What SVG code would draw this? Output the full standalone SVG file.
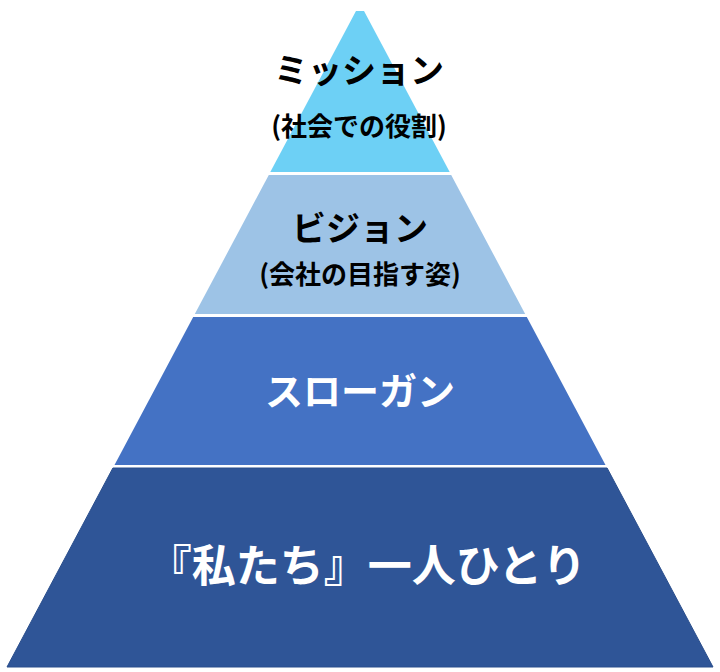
<svg xmlns="http://www.w3.org/2000/svg" width="720" height="672" viewBox="0 0 720 672">
  <style>
    .lbl { font-family: "Noto Sans CJK JP", "Noto Sans", sans-serif; font-weight: bold; text-anchor: middle; dominant-baseline: central; }
    .dark { fill: #000000; }
    .light { fill: #ffffff; }
  </style>
  <rect width="720" height="672" fill="#ffffff"/>
  <g id="mission">
    <polygon points="356,11 364,11 449.7,172 270.3,172" fill="#6DD0F5"/>
    <text class="lbl dark" x="359" y="68" font-size="34">ミッション</text>
    <text class="lbl dark" x="359" y="124" font-size="26">(社会での役割)</text>
  </g>
  <g id="vision">
    <polygon points="268.8,175 451.2,175 525.2,314 194.8,314" fill="#9DC3E6"/>
    <text class="lbl dark" x="360" y="226" font-size="34">ビジョン</text>
    <text class="lbl dark" x="360" y="272" font-size="26">(会社の目指す姿)</text>
  </g>
  <g id="slogan">
    <polygon points="193.2,317 526.8,317 605.5,465 114.5,465" fill="#4472C4"/>
    <text class="lbl light" x="360" y="388" font-size="38">スローガン</text>
  </g>
  <g id="people">
    <polygon points="112.9,468 607.1,468 713,667 7,667" fill="#2F5597" stroke="#2A4E8C" stroke-width="1"/>
    <text class="lbl light" x="367" y="563" font-size="44">『私たち』一人ひとり</text>
  </g>
</svg>
